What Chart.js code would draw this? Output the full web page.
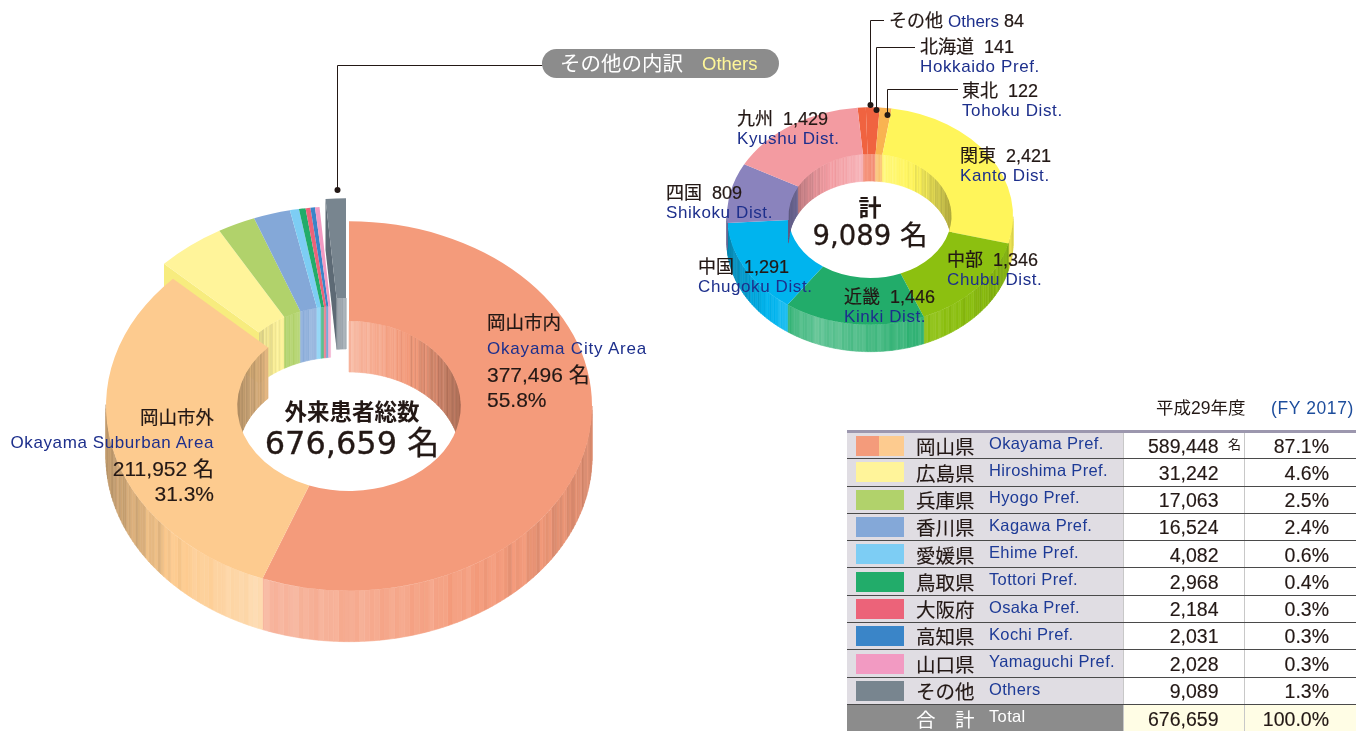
<!DOCTYPE html>
<html lang="ja">
<head>
<meta charset="utf-8">
<title>外来患者総数</title>
<script src="https://cdn.jsdelivr.net/npm/chart.js@4"></script>
<style>
    html, body { margin: 0; padding: 0; background: #fff; }
    body { position: relative; width: 1356px; height: 731px; overflow: hidden;
        font-family: "Liberation Sans", "Noto Sans CJK JP", sans-serif; color: #231815; }
    canvas { position: absolute; }
    .t { position: absolute; white-space: nowrap; line-height: 1; transform: translateY(-50%); }
    .b { color: #1d2f8c; }
    .en { font-size: 17px; letter-spacing: .6px; color: #1d2f8c; }
    .jp { font-size: 18px; -webkit-text-stroke: .2px #231815; }
    .big { font-size: 18.5px; -webkit-text-stroke: .2px #231815; }
    .num { font-size: 21px; -webkit-text-stroke: .15px #231815; }
    .r { transform: translate(-100%, -50%); }
    .c { transform: translate(-50%, -50%); }
    #pill { position: absolute; left: 542px; top: 49px; width: 237px; height: 29px; border-radius: 15px; background: #8c8c8c; }
    #leaders { position: absolute; left: 0; top: 0; }
    table { position: absolute; left: 847px; top: 430px; width: 509px; height: 301px; border-collapse: collapse;
        table-layout: fixed; border-top: 3px solid #9c97ae; }
    td { box-sizing: border-box; padding: 0; height: 27.3px; border-bottom: 1px solid #4a4a4a; line-height: 1; white-space: nowrap; }
    td.sw, td.name, td.eng { background: #e0dde3; }
    td.name { font-size: 19.5px; padding-left: 5px; padding-top: 4px; -webkit-text-stroke: .15px #231815; }
    td.eng { font-size: 16.5px; letter-spacing: .35px; color: #1d3a96; padding-left: 4px; padding-bottom: 4px; }
    td.num, td.pct { font-size: 19.5px; text-align: right; padding-top: 2px; border-left: 1px solid #c8c8c8; -webkit-text-stroke: .15px #231815; }
    td.num { padding-right: 25px; }
    td.pct { padding-right: 27px; }
    .swatch { display: block; width: 48px; height: 20px; margin-left: 9px; }
    tr.total td { border-bottom: 0; }
    tr.total td.sw, tr.total td.name, tr.total td.eng { background: #8c8c8c; color: #fff; -webkit-text-stroke: 0; }
    tr.total td.num, tr.total td.pct { background: #fffde5; }
</style>
</head>
<body>
<canvas id="mainChart" width="580" height="520" style="left:59px;top:146px"></canvas>
<canvas id="otherChart" width="320" height="320" style="left:710px;top:56px"></canvas>

<svg id="leaders" width="1356" height="731">
    <g fill="none" stroke="#231815" stroke-width="1">
        <path d="M542.5 65.5H337.5V190"/>
        <path d="M884 20.5H870.5V105"/>
        <path d="M915 47.5H876.5V110"/>
        <path d="M958 89.5H887.5V115"/>
    </g>
    <g fill="#231815">
        <circle cx="337.5" cy="190" r="3"/>
        <circle cx="870.5" cy="105" r="3"/>
        <circle cx="876.5" cy="110" r="3"/>
        <circle cx="887.5" cy="115" r="3"/>
    </g>
</svg>

<div id="pill"></div>
<div class="t" style="left:560px;top:64px;font-size:20.5px;color:#fff">その他の内訳</div>
<div class="t" style="left:702px;top:64px;font-size:18.5px;color:#fff799">Others</div>

<div class="t big" style="left:487px;top:323px">岡山市内</div>
<div class="t en" style="left:487px;top:348px;letter-spacing:.8px">Okayama City Area</div>
<div class="t num" style="left:487px;top:374px">377,496 名</div>
<div class="t num" style="left:487px;top:399px">55.8%</div>

<div class="t big r" style="left:214px;top:418px">岡山市外</div>
<div class="t en r" style="left:214px;top:442px">Okayama Suburban Area</div>
<div class="t num r" style="left:214px;top:468px">211,952 名</div>
<div class="t num r" style="left:214px;top:493px">31.3%</div>

<div class="t c" style="left:352px;top:413px;font-size:22.5px;font-weight:700">外来患者総数</div>
<div class="t c" style="left:352px;top:443px;font-size:32px;font-family:'DejaVu Sans','Noto Sans CJK JP',sans-serif;-webkit-text-stroke:.3px #231815">676,659 名</div>

<div class="t c" style="left:870px;top:208px;font-size:23px;font-weight:700">計</div>
<div class="t c" style="left:870px;top:236px;font-size:27.5px;font-family:'DejaVu Sans','Noto Sans CJK JP',sans-serif;-webkit-text-stroke:.3px #231815">9,089 名</div>

<div class="t" style="left:1156px;top:409px;font-size:17.5px">平成29年度</div>
<div class="t" style="left:1271px;top:409px;font-size:17.5px;letter-spacing:.6px;color:#1d4d9c">(FY 2017)</div>

<table id="prefTable"></table>
<div class="t" style="left:1228px;top:444px;font-size:13px">名</div>

<script>
// big ring, clockwise from the top
const mainLabels = ['岡山市内', '岡山市外', '広島県', '兵庫県', '香川県', '愛媛県', '鳥取県', '大阪府', '高知県', '山口県', 'その他']
const mainValues = [377496, 211952, 31242, 17063, 16524, 4082, 2968, 2184, 2031, 2028, 9089]
const mainColors = ['#f49b7b', '#fdcb8f', '#fff49a', '#b1d26b', '#84a8d8', '#7dcdf4', '#22ac6a', '#ec6379', '#3a85c8', '#f29ac2', '#78858f']
const mainShiftX = [0, 0, -9, -9, -9, -9, -9, -9, -9, -9, -3]
const mainShiftY = [0, 0, -15, -15, -15, -15, -15, -15, -15, -15, -23]
const mainFaceColors = ['', '', '#f7ec7e', '', '', '', '', '', '', '', '#5d6a75']

// small ring = breakdown of その他
const otherLabels = ['その他', '北海道', '東北', '関東', '中部', '近畿', '中国', '四国', '九州']
const otherLabelsEn = ['Others', 'Hokkaido Pref.', 'Tohoku Dist.', 'Kanto Dist.', 'Chubu Dist.', 'Kinki Dist.', 'Chugoku Dist.', 'Shikoku Dist.', 'Kyushu Dist.']
const otherValues = [84, 141, 122, 2421, 1346, 1446, 1291, 809, 1429]
const otherColors = ['#f06340', '#f06340', '#f9b351', '#fff55a', '#8cc010', '#22ac6a', '#00b4ee', '#8a83bd', '#f39ba1']
const otherLabelX = [0, 920, 962, 960, 947, 844, 698, 666, 737]
const otherLabelY = [0, 47, 91, 156, 260, 297, 267, 193, 119]

// table
const tablePrefs = ['岡山県', '広島県', '兵庫県', '香川県', '愛媛県', '鳥取県', '大阪府', '高知県', '山口県', 'その他']
const tablePrefsEn = ['Okayama Pref.', 'Hiroshima Pref.', 'Hyogo Pref.', 'Kagawa Pref.', 'Ehime Pref.', 'Tottori Pref.', 'Osaka Pref.', 'Kochi Pref.', 'Yamaguchi Pref.', 'Others']
const tableCounts = ['589,448', '31,242', '17,063', '16,524', '4,082', '2,968', '2,184', '2,031', '2,028', '9,089']
const tableShares = ['87.1%', '4.6%', '2.5%', '2.4%', '0.6%', '0.4%', '0.3%', '0.3%', '0.3%', '1.3%']
const tableSwatches = ['', '#fff49a', '#b1d26b', '#84a8d8', '#7dcdf4', '#22ac6a', '#ec6379', '#3a85c8', '#f29ac2', '#78858f']

function mix(hex, target, amount) {
    let c = [1, 3, 5].map(i => parseInt(hex.substr(i, 2), 16))
    return 'rgb(' + c.map(v => Math.round(v + (target - v) * amount)).join(',') + ')'
}

// u: -1 left edge of the ring, 1 right edge. Lit a bit left of the middle.
function outerShade(color, u, i) {
    let stripe = 0.035 * Math.sin(i * 2.3) + 0.025 * Math.sin(i * 0.9)
    let light = u < -0.38 ? 0.3 - (-0.38 - u) * 0.9 : 0.3 - (u + 0.38) * 0.3
    light += stripe
    return light >= 0 ? mix(color, 255, light) : mix(color, 0, -light)
}

function innerShade(color, u, i) {
    let stripe = 0.05 * Math.sin(i * 2.7) + 0.03 * Math.sin(i * 1.1)
    let light = 0.32 - Math.abs(u) * 0.62 + stripe
    return light >= 0 ? mix(color, 255, light) : mix(color, 0, -light)
}

function drawWall(ctx, arc, radius, cfg, color, outer) {
    let step = 1.2 * Math.PI / 180
    for (let a = arc.startAngle; a < arc.endAngle - 1e-6; a += step) {
        let b = Math.min(a + step, arc.endAngle)
        let front = Math.sin((a + b) / 2) > 0
        if (front !== outer) continue
        let x0 = arc.x + radius * Math.cos(a)
        let x1 = arc.x + radius * Math.cos(b)
        let y0 = arc.y + radius * Math.sin(a) * cfg.squash
        let y1 = arc.y + radius * Math.sin(b) * cfg.squash
        let u = Math.cos((a + b) / 2)
        let idx = Math.round(a / step)
        ctx.fillStyle = outer ? outerShade(color, u, idx) : innerShade(color, u, idx)
        ctx.strokeStyle = ctx.fillStyle
        ctx.lineWidth = 0.6
        ctx.beginPath()
        ctx.moveTo(x0, y0)
        ctx.lineTo(x1, y1)
        ctx.lineTo(x1, y1 + cfg.depth)
        ctx.lineTo(x0, y0 + cfg.depth)
        ctx.closePath()
        ctx.fill()
        ctx.stroke()
    }
}

// the radial face left open where a pulled-out group begins
function drawCutFace(ctx, arc, cfg, color) {
    let a = arc.startAngle
    let xo = arc.x + arc.outerRadius * Math.cos(a), yo = arc.y + arc.outerRadius * Math.sin(a) * cfg.squash
    let xi = arc.x + arc.innerRadius * Math.cos(a), yi = arc.y + arc.innerRadius * Math.sin(a) * cfg.squash
    ctx.fillStyle = color
    ctx.beginPath()
    ctx.moveTo(xo, yo)
    ctx.lineTo(xi, yi)
    ctx.lineTo(xi, yi + cfg.depth)
    ctx.lineTo(xo, yo + cfg.depth)
    ctx.closePath()
    ctx.fill()
}

// squashes the doughnut into an ellipse and puts the side walls under it
const ringPlugin = {
    id: 'ring3d',
    beforeDatasetsDraw(chart, args, cfg) {
        let ctx = chart.ctx
        let arcs = chart.getDatasetMeta(0).data
        let colors = chart.data.datasets[0].backgroundColor
        let order = arcs.map((a, i) => i)
        let pulled = i => cfg.shiftX[i] !== 0 || cfg.shiftY[i] !== 0
        order.sort((p, q) => (pulled(q) ? 1 : 0) - (pulled(p) ? 1 : 0) || p - q)

        order.forEach(i => {
            let arc = arcs[i]
            ctx.save()
            ctx.translate(cfg.shiftX[i], cfg.shiftY[i])
            drawWall(ctx, arc, arc.innerRadius, cfg, colors[i], false)
            drawWall(ctx, arc, arc.outerRadius, cfg, colors[i], true)
            if (cfg.faceColors && cfg.faceColors[i]) drawCutFace(ctx, arc, cfg, cfg.faceColors[i])
            ctx.translate(arc.x, arc.y)
            ctx.scale(1, cfg.squash)
            ctx.translate(-arc.x, -arc.y)
            arc.draw(ctx)
            ctx.restore()
        })
        return false
    }
}

function makeRing(id, labels, values, colors, cutout, rotation, ring) {
    return new Chart(document.getElementById(id), {
        type: 'doughnut',
        data: {
            labels: labels,
            datasets: [{ data: values, backgroundColor: colors, borderWidth: 0 }]
        },
        options: {
            responsive: false,
            animation: false,
            cutout: cutout,
            rotation: rotation,
            layout: { padding: 17 },
            plugins: { legend: { display: false }, tooltip: { enabled: false }, ring3d: ring }
        },
        plugins: [ringPlugin]
    })
}

makeRing('mainChart', mainLabels, mainValues, mainColors, '46%', 0,
    { squash: 0.76, depth: 51, shiftX: mainShiftX, shiftY: mainShiftY, faceColors: mainFaceColors })
makeRing('otherChart', otherLabels, otherValues, otherColors, '57%', -5,
    { squash: 0.76, depth: 27, shiftX: otherValues.map(() => 0), shiftY: otherValues.map(() => 0) })

// labels of the small ring
function addText(html, x, y, cls, style) {
    document.body.insertAdjacentHTML('beforeend', `<div class="t ${cls}" style="left:${x}px;top:${y}px;${style || ''}">${html}</div>`)
}
addText(`${otherLabels[0]} <span class="b" style="font-size:17px;-webkit-text-stroke:0">${otherLabelsEn[0]}</span> ${otherValues[0]}`, 889, 21, 'jp')
for (let i = 1; i < otherLabels.length; i++) {
    addText(`${otherLabels[i]}&nbsp; ${otherValues[i].toLocaleString('en-US')}`, otherLabelX[i], otherLabelY[i], 'jp')
    addText(otherLabelsEn[i], otherLabelX[i], otherLabelY[i] + 19, 'en')
}

// table on the lower right
let rows = '<colgroup><col style="width:64px"><col style="width:74px"><col style="width:138px"><col style="width:121px"><col style="width:112px"></colgroup>'
tablePrefs.forEach((name, i) => {
    let swatch = i === 0
        ? `<span class="swatch" style="background:linear-gradient(90deg,${mainColors[0]} 48%,${mainColors[1]} 48%)"></span>`
        : `<span class="swatch" style="background:${tableSwatches[i]}"></span>`
    rows += `<tr><td class="sw">${swatch}</td><td class="name">${name}</td><td class="eng">${tablePrefsEn[i]}</td><td class="num">${tableCounts[i]}</td><td class="pct">${tableShares[i]}</td></tr>`
})
rows += '<tr class="total"><td class="sw"></td><td class="name">合　計</td><td class="eng">Total</td><td class="num">676,659</td><td class="pct">100.0%</td></tr>'
document.getElementById('prefTable').innerHTML = rows
</script>
</body>
</html>
